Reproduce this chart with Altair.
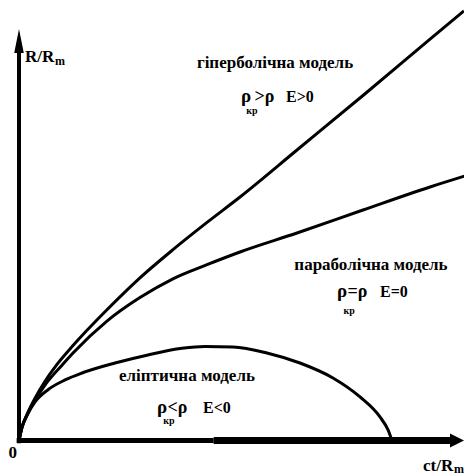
import altair as alt
import pandas as pd

# ---- curve values (x = ct/Rm, y = R/Rm) ----
hyper_x = [0, 0.025, 0.067, 0.135, 0.219, 0.320, 0.455, 0.741, 1.019, 1.297, 1.584, 1.862, 2.342, 2.898, 3.463, 3.749]
hyper_y = [0, 0.140, 0.275, 0.450, 0.630, 0.810, 1.010, 1.390, 1.730, 2.030, 2.320, 2.590, 3.090, 3.670, 4.270, 4.570]

para_x = [0, 0.025, 0.067, 0.135, 0.219, 0.362, 0.455, 0.741, 1.019, 1.297, 1.584, 1.862, 2.342, 2.898, 3.463, 3.783]
para_y = [0, 0.140, 0.270, 0.430, 0.590, 0.800, 0.930, 1.270, 1.520, 1.720, 1.870, 2.005, 2.207, 2.452, 2.697, 2.824]

ellip_x = [0, 0.025, 0.067, 0.135, 0.244, 0.388, 0.531, 0.809, 1.087, 1.373, 1.567, 1.803, 2.089, 2.367, 2.645, 2.873, 3.041, 3.109, 3.142]
ellip_y = [0, 0.140, 0.265, 0.410, 0.540, 0.644, 0.718, 0.824, 0.910, 0.980, 1.000, 0.995, 0.931, 0.824, 0.665, 0.463, 0.250, 0.112, 0]

# ---- texts ----
titles = ["гіперболічна модель", "параболічна модель", "еліптична модель"]
title_x = [2.157, 2.965, 1.415]
title_y = [3.963, 1.809, 0.638]

rho_x = [1.870, 2.679, 1.163]
rel_text = [">ρ", "=ρ", "<ρ"]
rel_x = [1.985, 2.768, 1.252]
sub_x = [1.915, 2.733, 1.216]
energy_text = ["E>0", "E=0", "E<0"]
energy_x = [2.249, 3.041, 1.550]
formula_y = [3.601, 1.527, 0.287]
sub_y = [3.474, 1.346, 0.176]

axis_main_text = ["R/R", "ct/R", "0"]
axis_main_x = [0.051, 3.404, -0.088]
axis_main_y = [4.027, -0.324, -0.186]
axis_sub_text = ["m", "m"]
axis_sub_x = [0.303, 3.665]
axis_sub_y = [3.995, -0.346]

# ---- axis geometry (data units) ----
y_axis_top = 4.16
x_axis_mid = 1.64
x_axis_end = 3.648
y_arrow = 4.25
x_arrow = 3.690

XS = alt.Scale(domain=[-0.0927, 3.749], nice=False, zero=False)
YS = alt.Scale(domain=[-0.378, 4.601], nice=False, zero=False)

def xe(f="x"):
    return alt.X(f"{f}:Q", scale=XS, axis=None)

def ye(f="y"):
    return alt.Y(f"{f}:Q", scale=YS, axis=None)

curves = pd.concat([
    pd.DataFrame({"x": hyper_x, "y": hyper_y, "c": "h", "o": range(len(hyper_x))}),
    pd.DataFrame({"x": para_x, "y": para_y, "c": "p", "o": range(len(para_x))}),
    pd.DataFrame({"x": ellip_x, "y": ellip_y, "c": "e", "o": range(len(ellip_x))}),
])

lines = alt.Chart(curves).mark_line(color="black", strokeWidth=3, interpolate="monotone").encode(
    x=xe(), y=ye(), detail="c:N", order="o:Q"
)

yaxis = alt.Chart(pd.DataFrame({"x": [0], "y": [-0.03], "y2": [y_axis_top]})).mark_rule(
    color="black", strokeWidth=4).encode(x=xe(), y=ye(), y2="y2:Q")
xaxis1 = alt.Chart(pd.DataFrame({"x": [-0.02], "x2": [x_axis_mid], "y": [0]})).mark_rule(
    color="black", strokeWidth=5).encode(x=xe(), x2="x2:Q", y=ye())
xaxis2 = alt.Chart(pd.DataFrame({"x": [x_axis_mid], "x2": [x_axis_end], "y": [0]})).mark_rule(
    color="black", strokeWidth=7).encode(x=xe(), x2="x2:Q", y=ye())

arrow_up = alt.Chart(pd.DataFrame({"x": [0], "y": [y_arrow]})).mark_point(
    shape="M0,-1L0.4,1L-0.4,1Z", size=576, filled=True, color="black", opacity=1, strokeWidth=0
).encode(x=xe(), y=ye())
arrow_right = alt.Chart(pd.DataFrame({"x": [x_arrow], "y": [0]})).mark_point(
    shape="M1,0L-1,-1L-1,1Z", size=196, filled=True, color="black", opacity=1, strokeWidth=0
).encode(x=xe(), y=ye())

SERIF = "Liberation Serif, Times New Roman, serif"

def text_layer(df, size, align="left", weight="bold"):
    return alt.Chart(df).mark_text(
        font=SERIF, fontSize=size, fontWeight=weight, align=align,
        baseline="alphabetic", color="black"
    ).encode(x=xe(), y=ye(), text="t:N")

title_layer = text_layer(pd.DataFrame({"x": title_x, "y": title_y, "t": titles}), 17, align="center")
rho_layer = text_layer(pd.DataFrame({"x": rho_x, "y": formula_y, "t": ["ρ"] * 3}), 19)
rel_layer = text_layer(pd.DataFrame({"x": rel_x, "y": formula_y, "t": rel_text}), 18)
sub_layer = text_layer(pd.DataFrame({"x": sub_x, "y": sub_y, "t": ["кр"] * 3}), 10)
en_layer = text_layer(pd.DataFrame({"x": energy_x, "y": formula_y, "t": energy_text}), 16)
ax_layer = text_layer(pd.DataFrame({"x": axis_main_x, "y": axis_main_y, "t": axis_main_text}), 17)
axs_layer = text_layer(pd.DataFrame({"x": axis_sub_x, "y": axis_sub_y, "t": axis_sub_text}), 12)

chart = alt.layer(
    lines, yaxis, xaxis1, xaxis2, arrow_up, arrow_right,
    title_layer, rho_layer, rel_layer, sub_layer, en_layer, ax_layer, axs_layer
).properties(
    width=456, height=468, padding=0,
    autosize=alt.AutoSizeParams(type="none"),
    background="white",
).configure_view(strokeWidth=0)

chart.save("out.html", embed_options={"renderer": "svg", "actions": False})
